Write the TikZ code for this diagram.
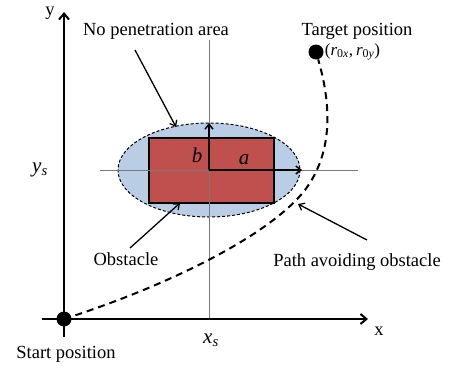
\documentclass[tikz,border=0pt]{standalone}
\usepackage{fontspec}
\setmainfont{Liberation Serif}
\usepackage{tikz}
\usetikzlibrary{arrows.meta,positioning,calc}
\definecolor{zonefill}{RGB}{185,205,229}
\definecolor{obstfill}{RGB}{192,80,77}
\definecolor{guidegray}{RGB}{120,120,120}
\newcommand{\italsub}[2]{\textit{#1}\textsubscript{#2}}

\begin{document}
\begin{tikzpicture}[x=1pt, y=-1pt, >={Straight Barb[length=5pt,width=8pt]},
  axis/.style={line width=2.2pt, ->, >={Straight Barb[length=6pt,width=10pt,line width=2pt]}},
  guide/.style={draw=guidegray, line width=0.6pt},
  zone/.style={fill=zonefill, draw=black, dashed, line width=1pt, dash pattern=on 3pt off 2pt},
  obst/.style={fill=obstfill, draw=black, line width=1.8pt},
  pointer/.style={line width=1.3pt, ->},
  halfaxis/.style={line width=1.5pt, ->},
  route/.style={line width=2pt, dash pattern=on 7pt off 5pt},
  dot/.style={circle, fill=black, inner sep=0pt, minimum size=15pt},
  lbl/.style={font=\fontsize{18.5}{20}\selectfont, inner sep=1pt},
  sym/.style={font=\fontsize{21}{23}\selectfont, inner sep=1pt}]
\useasboundingbox (0,0) rectangle (449,367);

% obstacle area
\coordinate (ctr) at (209,170);
\draw[zone] (ctr) ellipse [x radius=91, y radius=47];
\draw[obst] (149,138) rectangle (274,203);

% guide lines through the obstacle centre
\draw[guide] (209,40) -- (209,319);
\draw[guide] (100,170) -- (358,170);

% half axes a and b
\draw[halfaxis] (ctr) -- (209,123) coordinate (btip);
\draw[halfaxis] (ctr) -- (302,170) coordinate (atip);
\node[sym] (b) at (197,155) {\textit{b}};
\node[sym] (a) at (244,160) {\textit{a}};

% axes
\coordinate (org) at (64,319);
\draw[axis] (org) ++(0,18) -- (64,12) coordinate (ytip);
\draw[axis] (42,319) -- (368,319) coordinate (xtip);
\node[lbl] (xl) at (379,331) {x};
\node[lbl] (yl) at (50,13) {y};
\node[sym] (ys) at (40,170) {\italsub{y}{\textit{s}}};
\node[sym] (xs) at (211,340) {\italsub{x}{\textit{s}}};

% start and target
\node[dot] (start) at (org) {};
\node[dot] (target) at (316,52) {};
\node[lbl] (startlbl) at (66,354) {Start position};
\node[lbl] (targetlbl) at (357,31) {Target position};
\node[font=\fontsize{17}{19}\selectfont, inner sep=1pt, right=0pt of target] (r0)
  {(\italsub{r}{0\textit{x}},\,\italsub{r}{0\textit{y}})};

% avoiding path
\draw[route] (start.center) .. controls (170,285) and (270,235) .. (305,190)
  .. controls (335,150) and (330,100) .. (target);

% callouts
\node[lbl] (nopen) at (156,31) {No penetration area};
\node[lbl] (obstlbl) at (126,259) {Obstacle};
\node[lbl] (pathlbl) at (357,262) {Path avoiding obstacle};
\coordinate (np1) at (135,50);
\coordinate (np2) at (176,127);
\coordinate (ob1) at (130,248);
\coordinate (ob2) at (180,203);
\coordinate (pa1) at (367,240);
\coordinate (pa2) at (298,204);
\draw[pointer] (np1) -- (np2);
\draw[pointer] (ob1) -- (ob2);
\draw[pointer] (pa1) -- (pa2);
\end{tikzpicture}
\end{document}
